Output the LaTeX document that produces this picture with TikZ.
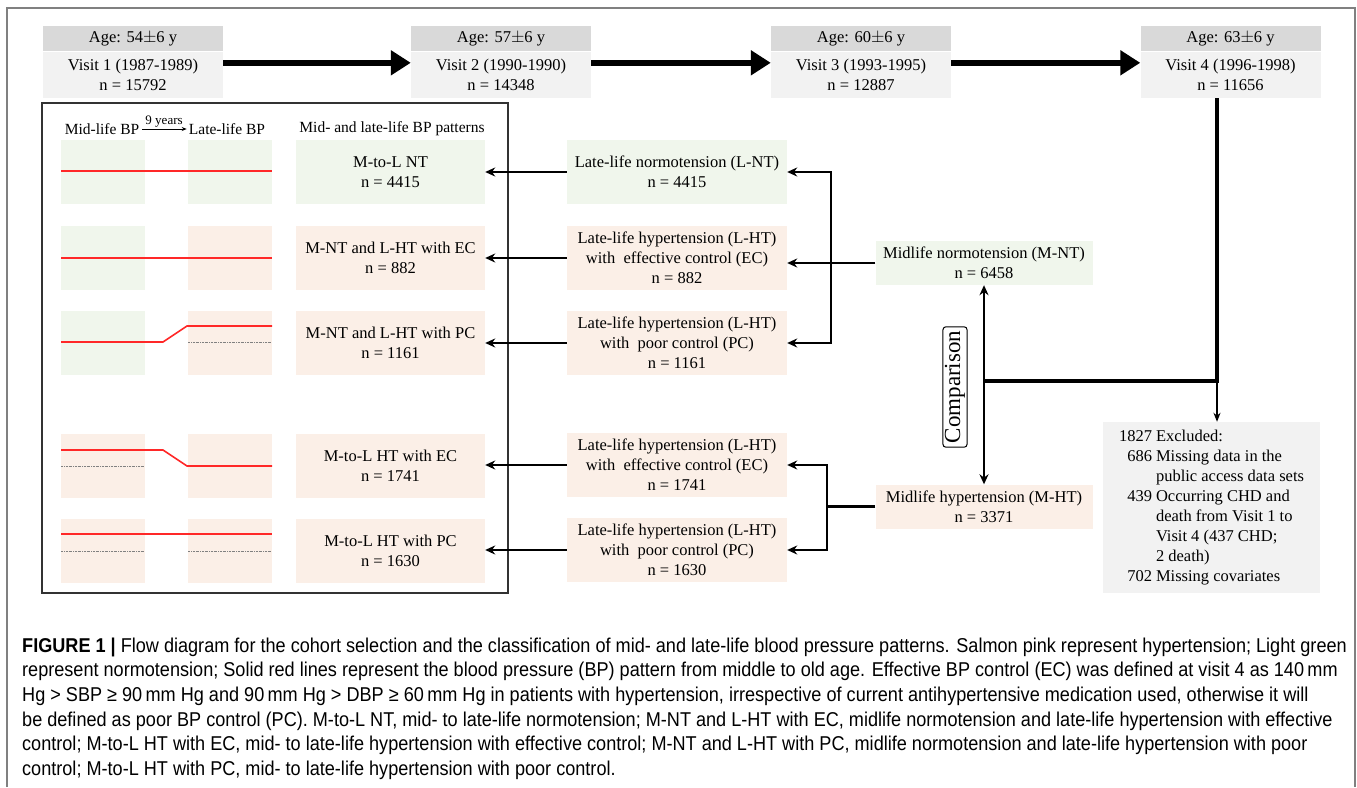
\documentclass[tikz,border=0pt]{standalone}
\usepackage{fontspec}
\setmainfont{Liberation Serif}
\newfontfamily\capfont[FakeStretch=0.905]{Liberation Sans}
\usetikzlibrary{arrows.meta,calc}
\definecolor{headgray}{RGB}{217,217,217}
\definecolor{bodygray}{RGB}{242,242,242}
\definecolor{ntgreen}{RGB}{240,246,236}
\definecolor{htpink}{RGB}{251,239,231}
\definecolor{bpred}{RGB}{255,40,40}
\definecolor{framegray}{RGB}{50,50,50}
\tikzset{
  visithead/.style={fill=headgray, minimum width=180pt, minimum height=25pt, inner sep=0pt},
  visitbody/.style={fill=bodygray, minimum width=180pt, minimum height=46pt, inner sep=0pt, align=center},
  midbox/.style={minimum width=220pt, minimum height=64pt, inner sep=0pt, align=center},
  patbox/.style={minimum width=189pt, minimum height=64pt, inner sep=0pt, align=center},
  cell/.style={minimum width=84pt, minimum height=64pt, inner sep=0pt},
  mlbox/.style={minimum width=217pt, minimum height=44pt, inner sep=0pt, align=center},
  ntfill/.style={fill=ntgreen},
  htfill/.style={fill=htpink},
  hdr/.style={font=\fontsize{15.5}{18}\selectfont, inner sep=1pt},
  bigarrow/.style={line width=5.5pt, -{Triangle[length=20pt,width=24pt]}},
  thickline/.style={line width=4.5pt},
  thinarrow/.style={line width=2.2pt, line join=miter, -{Stealth[length=10pt,width=9pt]}},
  twoarrow/.style={line width=2.2pt, line join=miter, {Stealth[length=10pt,width=9pt]}-{Stealth[length=10pt,width=9pt]}},
  bpline/.style={draw=bpred, line width=1.6pt},
  refline/.style={draw=gray, line width=0.6pt, dash pattern={on 2pt off 1pt on 0.5pt off 1pt}},
  capline/.style={anchor=base west, inner sep=0pt, font=\capfont\fontsize{20}{24}\selectfont}
}
\begin{document}
\begin{tikzpicture}[x=1pt,y=1pt,yscale=-1,font=\fontsize{16.5}{20}\selectfont]
\useasboundingbox (0,0) rectangle (1357,787);

%Shape: outer frame
\draw [gray, line width=1.2pt] (7,787) -- (7,8) -- (1355,8) -- (1355,787);

% Visits
\node [visithead] (v1h) at (133,38.5) {Age: 54$\pm$6 y};
\node [visitbody] (v1b) at (133,75) {Visit 1 (1987-1989)\\n = 15792};
\node [visithead] (v2h) at (501,38.5) {Age: 57$\pm$6 y};
\node [visitbody] (v2b) at (501,75) {Visit 2 (1990-1990)\\n = 14348};
\node [visithead] (v3h) at (861,38.5) {Age: 60$\pm$6 y};
\node [visitbody] (v3b) at (861,75) {Visit 3 (1993-1995)\\n = 12887};
\node [visithead] (v4h) at (1230.5,38.5) {Age: 63$\pm$6 y};
\node [visitbody] (v4b) at (1230.5,75) {Visit 4 (1996-1998)\\n = 11656};

\draw [bigarrow] ($(v1b.north east)+(0,11)$) -- ($(v2b.north west)+(0,11)$);
\draw [bigarrow] ($(v2b.north east)+(0,11)$) -- ($(v3b.north west)+(0,11)$);
\draw [bigarrow] ($(v3b.north east)+(0,11)$) -- ($(v4b.north west)+(0,11)$);

%Shape: left panel
\draw [framegray, line width=1.2pt] (42,103) rectangle (508,593);

% Text Node
\node [hdr] (midbp) at (102,129) {Mid-life BP};
\node [hdr] (latebp) at (227,129) {Late-life BP};
\node [hdr] (patt) at (392,129) {Mid- and late-life BP patterns};
\draw [line width=0.8pt, -{Stealth[length=5pt,width=4pt]}, shorten <=2pt, shorten >=1pt] (midbp.east) -- node [above, inner sep=1pt, font=\fontsize{13}{15}\selectfont] (yrs) {9 years} (latebp.west);

% pattern cells
\node [cell, ntfill] (c11) at (103,172) {};
\node [cell, ntfill] (c12) at (230,172) {};
\node [patbox, ntfill] (pat1) at (390.5,172) {M-to-L NT\\n = 4415};
\node [cell, ntfill] (c21) at (103,258) {};
\node [cell, htfill] (c22) at (230,258) {};
\node [patbox, htfill] (pat2) at (390.5,258) {M-NT and L-HT with EC\\n = 882};
\node [cell, ntfill] (c31) at (103,343) {};
\node [cell, htfill] (c32) at (230,343) {};
\node [patbox, htfill] (pat3) at (390.5,343) {M-NT and L-HT with PC\\n = 1161};
\node [cell, htfill] (c41) at (103,466) {};
\node [cell, htfill] (c42) at (230,466) {};
\node [patbox, htfill] (pat4) at (390.5,466) {M-to-L HT with EC\\n = 1741};
\node [cell, htfill] (c51) at (103,551) {};
\node [cell, htfill] (c52) at (230,551) {};
\node [patbox, htfill] (pat5) at (390.5,551) {M-to-L HT with PC\\n = 1630};

% BP lines
\draw [refline] (188,342) -- (272,342);
\draw [refline] (61,466) -- (145,466);
\draw [refline] (61,551) -- (145,551);
\draw [refline] (188,551) -- (272,551);
\draw [bpline] (61,171) -- (272,171);
\draw [bpline] (61,258) -- (272,258);
\draw [bpline] (61,342) -- (163,342) -- (187,326) -- (272,326);
\draw [bpline] (61,450) -- (163,450) -- (187,466) -- (272,466);
\draw [bpline] (61,534) -- (272,534);

% Late-life groups
\node [midbox, ntfill] (lnt) at (677,172) {Late-life normotension (L-NT)\\n = 4415};
\node [midbox, htfill] (lhtec) at (677,258) {Late-life hypertension (L-HT)\\with\ \ effective control (EC)\\n = 882};
\node [midbox, htfill] (lhtpc) at (677,343) {Late-life hypertension (L-HT)\\with\ \ poor control (PC)\\n = 1161};
\node [midbox, htfill] (lhtec2) at (677,465) {Late-life hypertension (L-HT)\\with\ \ effective control (EC)\\n = 1741};
\node [midbox, htfill] (lhtpc2) at (677,550) {Late-life hypertension (L-HT)\\with\ \ poor control (PC)\\n = 1630};

\draw [thinarrow] (lnt.west) -- (pat1.east |- lnt.west);
\draw [thinarrow] (lhtec.west) -- (pat2.east |- lhtec.west);
\draw [thinarrow] (lhtpc.west) -- (pat3.east |- lhtpc.west);
\draw [thinarrow] (lhtec2.west) -- (pat4.east |- lhtec2.west);
\draw [thinarrow] (lhtpc2.west) -- (pat5.east |- lhtpc2.west);

% Midlife groups
\node [mlbox, ntfill] (mnt) at (984,263) {Midlife normotension (M-NT)\\n = 6458};
\node [mlbox, htfill] (mht) at (984,506.5) {Midlife hypertension (M-HT)\\n = 3371};

\coordinate (busnt) at (831,0);
\coordinate (busht) at (827,0);
\draw [thinarrow] (mnt.west) -- (lhtec.east |- mnt.west);
\draw [twoarrow] (lnt.east) -- (busnt |- lnt.east) -- (busnt |- lhtpc.east) -- (lhtpc.east);
\draw [line width=2.2pt] (mht.west) -- (busht |- mht.west);
\draw [twoarrow] (lhtec2.east) -- (busht |- lhtec2.east) -- (busht |- lhtpc2.east) -- (lhtpc2.east);

% Comparison
\draw [twoarrow] (mnt.south) -- (mht.north);
\node [draw, rounded corners=3pt, line width=1pt, fill=white, rotate=90, inner xsep=4pt, inner ysep=2pt, font=\fontsize{23}{26}\selectfont] (cmp) at (955,387) {Comparison};

% Excluded
\coordinate (j4) at (1217,381);
\node [fill=bodygray, minimum width=217pt, minimum height=171pt, inner sep=0pt] (excl) at (1211.5,507.5) {%
\begin{tabular}{@{}r@{\hspace{4pt}}l@{}}
1827 & Excluded:\\
686 & Missing data in the\\
 & public access data sets\\
439 & Occurring CHD and\\
 & death from Visit 1 to\\
 & Visit 4 (437 CHD;\\
 & 2 death)\\
702 & Missing covariates
\end{tabular}};
\draw [thickline] (v4b.south -| j4) -- (j4) -- (j4 -| mnt.south);
\draw [line width=1.5pt, -{Stealth[length=9pt,width=7pt]}] (j4) -- (excl.north -| j4);

% Caption
\node [capline] (cap1) at (22,652) {\textbf{FIGURE 1 |} Flow diagram for the cohort selection and the classification of mid- and late-life blood pressure patterns. Salmon pink represent hypertension; Light green};
\node [capline] (cap2) at (22,676.7) {represent normotension; Solid red lines represent the blood pressure (BP) pattern from middle to old age. Effective BP control (EC) was defined at visit 4 as 140\,mm};
\node [capline] (cap3) at (22,701.4) {Hg > SBP ≥ 90\,mm Hg and 90\,mm Hg > DBP ≥ 60\,mm Hg in patients with hypertension, irrespective of current antihypertensive medication used, otherwise it will};
\node [capline] (cap4) at (22,726.1) {be defined as poor BP control (PC). M-to-L NT, mid- to late-life normotension; M-NT and L-HT with EC, midlife normotension and late-life hypertension with effective};
\node [capline] (cap5) at (22,750.8) {control; M-to-L HT with EC, mid- to late-life hypertension with effective control; M-NT and L-HT with PC, midlife normotension and late-life hypertension with poor};
\node [capline] (cap6) at (22,775.5) {control; M-to-L HT with PC, mid- to late-life hypertension with poor control.};

\end{tikzpicture}
\end{document}
